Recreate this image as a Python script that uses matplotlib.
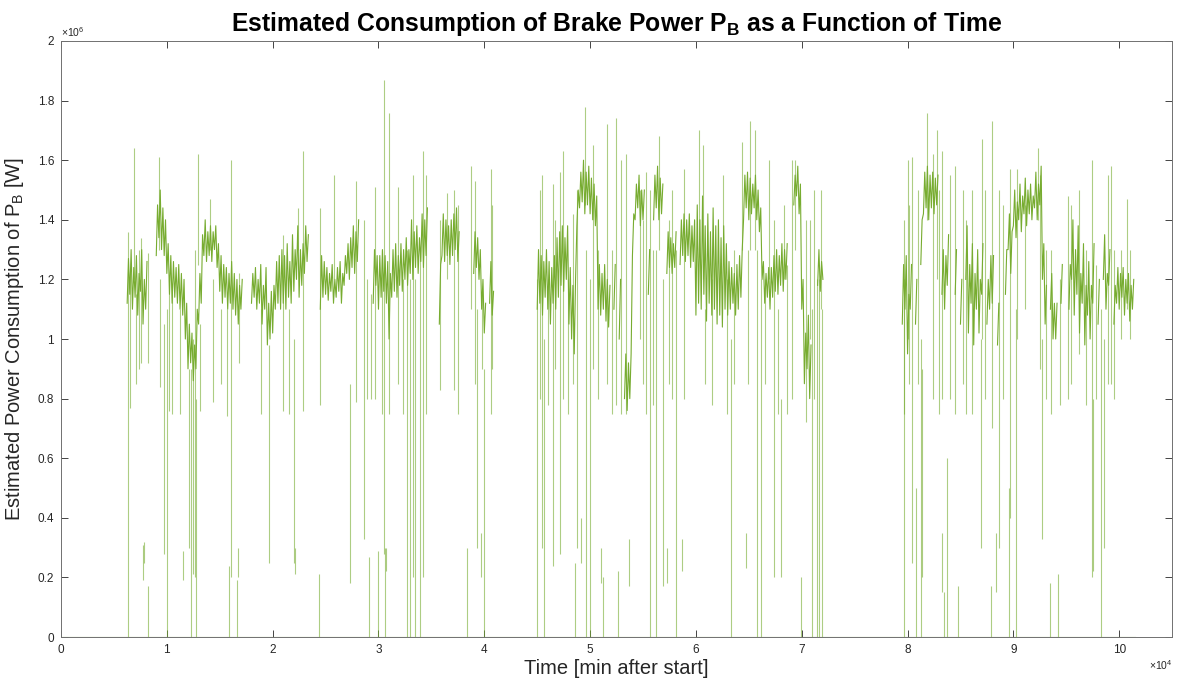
import numpy as np
import matplotlib.pyplot as plt
from matplotlib.ticker import FormatStrFormatter, MultipleLocator

nan = np.nan
GREEN = "#77AC30"
STEP = 0.125  # thousand minutes between samples

# estimated P_B in 1e6 W, one row = 1000 min (8 samples), gaps = nan
run_a_start = 6.0
run_a = [
    nan, nan, 1.12, 1.27, 1.15, 1.30, 1.10, 1.24,
    1.14, 1.28, 1.08, 1.22, 1.16, 1.30, 1.05, 1.20,
    1.10, 1.26, nan, nan, nan, nan, nan, nan,
    1.28, 1.45, 1.34, 1.50, 1.30, 1.44, 1.28, 1.40,
    1.22, 1.32, 1.15, 1.28, 1.12, 1.26, 1.14, 1.24,
    1.12, 1.25, 1.10, 1.22, 1.08, 1.20, 1.00, 1.12,
    0.90, 1.05, 0.92, 1.02, 0.86, 0.98, 0.90, 1.10,
    1.05, 1.22, 1.12, 1.35, 1.28, 1.40, 1.26, 1.36,
    1.28, 1.38, 1.26, 1.36, 1.30, 1.38, 1.24, 1.32,
    1.16, 1.28, 1.12, 1.25, 1.14, 1.24, 1.10, 1.22,
    1.12, 1.26, 1.10, 1.22, 1.08, 1.20, 1.05, 1.18,
    1.10, 1.20, nan, nan, nan, nan, nan, nan,
    1.12, 1.22, 1.14, 1.24, 1.10, 1.20, 1.12, 1.25,
    1.05, 1.18, 1.10, 1.24, 0.98, 1.12, 1.00, 1.16,
    1.02, 1.18, 1.10, 1.26, 1.12, 1.28, 1.10, 1.30,
    1.12, 1.28, 1.10, 1.32, 1.14, 1.26, 1.12, 1.35,
    1.16, 1.30, 1.20, 1.38, 1.14, 1.30, 1.18, 1.32,
    1.22, 1.38, 1.26, 1.35, nan, nan, nan, nan,
    nan, nan, nan, nan, 1.10, 1.28, 1.14, 1.26,
    1.15, 1.24, 1.13, 1.22, 1.16, 1.25, 1.12, 1.20,
    1.14, 1.24, 1.16, 1.26, 1.12, 1.22, 1.18, 1.28,
    1.22, 1.32, 1.20, 1.34, 1.24, 1.38, 1.22, 1.36,
    1.26, 1.40, nan, nan, nan, nan, nan, nan,
    nan, nan, nan, nan, 1.12, 1.30, 1.18, 1.28,
    1.10, 1.28, 1.14, 1.30, 1.16, 1.28, 1.12, 1.26,
    1.00, 1.22, 1.14, 1.30, 1.16, 1.32, 1.14, 1.28,
    1.18, 1.32, 1.16, 1.30, 1.20, 1.34, 1.18, 1.30,
    1.22, 1.40, 1.20, 1.36, 1.24, 1.38, 1.22, 1.34,
    1.26, 1.42, 1.24, 1.40, 1.28, 1.44, nan, nan,
    nan, nan, nan, nan, nan, nan, 1.05, 1.25,
    1.28, 1.42, 1.26, 1.40, 1.28, 1.38, 1.25, 1.40,
    1.28, 1.42, 1.30, 1.44, 1.26, 1.36, nan, nan,
    nan, nan, nan, nan, nan, nan, nan, nan,
    1.22, 1.36, 1.24, 1.34, 1.20, 1.30, 1.10, 1.20,
    1.02, 1.12, nan, nan, 1.12, 1.26, 1.08, 1.16,
]

run_b_start = 45.0
run_b = [
    1.10, 1.30, 1.12, 1.28, 1.08, 1.26, 1.14, 1.30,
    1.10, 1.26, 1.05, 1.24, 1.12, 1.28, 1.10, 1.34,
    1.14, 1.36, 1.18, 1.38, 1.16, 1.34, 1.20, 1.38,
    1.05, 1.24, 1.00, 1.18, 0.95, 1.20, 1.38, 1.50,
    1.44, 1.56, 1.46, 1.60, 1.42, 1.56, 1.45, 1.58,
    1.42, 1.54, 1.40, 1.52, 1.38, 1.48, 1.10, 1.25,
    1.08, 1.22, 1.10, 1.25, 1.06, 1.20, 1.04, 1.18,
    nan, nan, 1.10, 1.25, nan, nan, 1.00, 1.20,
    nan, nan, 0.80, 0.95, 0.76, 0.92, 0.80, 0.95,
    1.28, 1.42, 1.40, 1.52, 1.44, 1.55, 1.38, 1.50,
    1.40, 1.50, nan, nan, 1.15, 1.30, nan, nan,
    1.40, 1.55, 1.44, 1.58, 1.40, 1.54, 1.42, 1.52,
    nan, nan, 1.22, 1.36, 1.24, 1.34, 1.22, 1.32,
    1.24, 1.36, nan, nan, 1.25, 1.40, 1.28, 1.42,
    1.26, 1.40, 1.28, 1.42, 1.24, 1.38, 1.26, 1.40,
    1.08, 1.45, 1.12, 1.40, 1.10, 1.48, 1.15, 1.38,
    1.06, 1.42, 1.12, 1.36, 1.08, 1.44, 1.10, 1.38,
    1.05, 1.40, 1.08, 1.34, 1.04, 1.38, 1.10, 1.32,
    1.08, 1.26, 1.10, 1.24, 1.12, 1.22, 1.08, 1.25,
    1.10, 1.28, 1.14, 1.30, 1.40, 1.55, 1.44, 1.56,
    1.40, 1.54, 1.42, 1.52, 1.44, 1.55, 1.40, 1.50,
    1.36, 1.44, 1.20, 1.26, 1.12, 1.22, 1.14, 1.24,
    1.10, 1.24, 1.14, 1.28, 1.16, 1.30, 1.15, 1.28,
    1.18, 1.32, 1.16, 1.30, 1.20, 1.32, nan, nan,
    nan, nan, 1.45, 1.55, 1.48, 1.58, 1.42, 1.52,
    1.10, 1.20, 0.85, 1.02, 0.90, 1.08, 0.80, 0.98,
    nan, nan, nan, nan, 1.18, 1.30, 1.16, 1.26,
    1.20,
]

run_c_start = 79.0
run_c = [
    nan, nan, nan, nan, 1.05, 1.25, 1.10, 1.28,
    0.95, 1.15, 1.10, 1.25, nan, nan, 1.05, 1.20,
    nan, nan, 1.25, 1.40, 1.42, 1.56, 1.44, 1.58,
    1.40, 1.55, 1.44, 1.56, 1.42, 1.54, 1.45, 1.55,
    nan, nan, 1.15, 1.30, 1.10, 1.28, 1.18, 1.35,
    nan, nan, nan, nan, 1.15, 1.30, nan, nan,
    1.05, 1.20, nan, nan, 1.20, 1.38, 1.02, 1.25,
    1.12, 1.32, 0.98, 1.22, 1.10, 1.30, 1.02, 1.20,
    1.15, 1.32, nan, nan, 1.05, 1.20, 1.10, 1.28,
    1.12, 1.28, nan, nan, 0.98, 1.12, nan, nan,
    nan, nan, 1.15, 1.30, 1.30, 1.42, 1.22, 1.36,
    1.38, 1.50, 1.34, 1.46, 1.40, 1.52, 1.36, 1.48,
    1.42, 1.54, 1.38, 1.50, 1.42, 1.52, 1.40, 1.48,
    1.44, 1.56, 1.40, 1.52, 1.45, 1.58, 1.20, 1.32,
    1.05, 1.18, nan, nan, 1.10, 1.22, 1.00, 1.12,
    1.00, 1.12, nan, nan, 1.12, 1.25, nan, nan,
    nan, nan, 1.10, 1.25, 1.20, 1.40, 1.08, 1.30,
    1.15, 1.38, 1.02, 1.22, 1.12, 1.32, 0.98, 1.18,
    1.08, 1.26, 1.00, 1.18, 1.12, 1.32, nan, nan,
    1.05, 1.20, nan, nan, 1.20, 1.35, 1.10, 1.22,
    1.18, 1.30, nan, nan, 1.05, 1.18, 1.12, 1.24,
    1.10, 1.22, 1.14, 1.24, 1.08, 1.20, 1.12, 1.22,
    1.06, 1.18, 1.10, 1.20,
]

# standing still: P_B = 0 (thousand min)
idle_t = [0.0, 101.5]
idle_p = [0.0, 0.0]

# short peaks / drops: time (thousand min), low and high end (1e6 W)
spike_t = [
    6.37, 6.5, 6.9, 7.1, 7.35, 7.6, 7.75, 7.85, 8.2, 8.25, 9.25, 9.4, 9.75,
    10.05, 10.25, 10.5, 11.2, 11.5, 12.05, 12.3, 12.45, 12.65, 12.8, 12.95,
    13.15, 14.05, 14.4, 15.1, 15.65, 15.9, 16.1, 16.6, 16.75, 16.85, 18.9,
    19.7, 21.0, 21.55, 22.0, 22.1, 22.35, 22.85, 24.4, 24.45, 25.8, 27.3,
    27.85, 28.6, 28.95, 29.1, 29.3, 29.7, 30.0, 30.3, 30.5, 30.66, 30.75,
    31.0, 31.8, 32.35, 32.7, 33.0, 33.3, 33.45, 33.9, 34.25, 34.5, 35.85,
    36.5, 37.1, 37.5, 38.4, 38.75, 39.1, 39.35, 39.7, 39.75, 40.0, 40.6,
    40.75,
    45.0, 45.3, 45.5, 45.65, 46.0, 46.45, 46.7, 47.2, 47.45, 47.9, 48.4,
    48.6, 48.8, 49.13, 49.47, 49.6, 50.02, 50.3, 50.7, 51.03, 51.19, 51.6,
    52.1, 52.45, 52.6, 52.95, 53.4, 53.7, 54.7, 55.0, 55.3, 55.7, 55.9,
    56.27, 56.48, 56.9, 57.27, 57.5, 57.71, 58.1, 58.69, 58.9, 60.33, 60.71,
    60.9, 61.5, 62.6, 62.9, 63.29, 63.6, 64.34, 64.7, 64.9, 65.13, 65.6,
    65.8, 66.14, 66.5, 66.86, 67.4, 67.8, 68.0, 68.3, 68.6, 69.1, 69.4,
    69.9, 70.4, 70.82, 70.98, 71.2, 71.45, 71.6, 71.8, 71.92,
    79.66, 79.7, 80.0, 80.15, 80.46, 80.76, 81.0, 81.25, 81.4, 81.8, 82.4,
    82.8, 83.0, 83.24, 83.3, 83.43, 83.7, 84.0, 84.5, 84.76, 85.2, 85.5,
    86.1, 86.9, 87.05, 87.3, 87.93, 88.0, 88.36, 88.6, 89.0, 89.6, 89.67,
    90.22, 90.33, 91.1, 92.28, 92.5, 92.75, 93.1, 93.44, 93.6, 94.17, 94.4,
    95.12, 95.4, 96.2, 96.9, 97.42, 97.48, 97.8, 98.27, 98.6, 98.9, 99.2,
    99.5, 100.2, 100.78, 101.0,
]
spike_lo = [
    0.0, 0.77, 1.2, 0.85, 0.9, 0.92, 0.19, 0.25, 0.0, 0.92, 1.3, 0.84, 0.28,
    0.0, 0.76, 0.75, 0.75, 0.19, 0.3, 0.0, 0.21, 0.2, 0.0, 1.25,
    0.76, 1.3, 0.79, 0.85, 0.74, 0.0, 0.2, 0.0, 0.2, 0.92, 0.75,
    0.25, 0.76, 0.75, 0.25, 0.21, 1.3, 0.76, 0.0, 0.78, 1.2, 0.18,
    0.79, 0.33, 0.8, 0.0, 0.8, 0.8, 0.0, 0.75, 0.28, 0.0, 0.22,
    0.75, 0.85, 0.75, 0.0, 0.0, 0.2, 0.0, 0.0, 0.2, 0.75, 0.83,
    1.2, 0.83, 0.75, 0.0, 1.1, 0.85, 0.3, 0.2, 0.9, 0.0, 0.75,
    0.9,
    0.0, 0.8, 0.3, 0.0, 0.78, 0.24, 0.9, 0.28, 0.8, 0.75, 0.85,
    0.0, 0.3, 0.25, 1.45, 0.0, 0.0, 0.9, 0.8, 0.18, 0.0, 0.85,
    0.75, 0.78, 0.0, 0.75, 0.75, 0.17, 1.0, 0.85, 0.75, 0.0, 0.78,
    0.0, 1.3, 0.17, 0.18, 0.85, 0.8, 0.0, 0.22, 0.8, 1.3, 1.2,
    0.85, 0.78, 1.3, 0.75, 0.0, 0.85, 1.3, 0.23, 0.85, 1.3, 1.3,
    0.0, 0.0, 0.85, 1.2, 0.2, 0.75, 0.2, 1.2, 0.75, 0.8, 1.3,
    0.0, 0.72, 1.0, 0.0, 0.8, 0.0, 0.0, 1.1, 0.0,
    0.0, 0.75, 1.0, 0.85, 0.25, 0.0, 0.85, 0.0, 0.2, 1.4, 0.8,
    1.2, 0.75, 0.15, 0.8, 0.0, 0.0, 0.8, 0.75, 0.0, 0.85, 0.75,
    0.75, 0.3, 1.0, 0.8, 0.0, 0.7, 0.15, 0.3, 0.8, 0.0, 0.4,
    0.0, 1.0, 1.1, 1.4, 0.9, 0.33, 0.8, 0.0, 0.75, 0.0, 0.78,
    0.8, 0.85, 0.95, 0.78, 0.2, 0.22, 0.8, 0.0, 0.3, 0.85, 0.85,
    0.8, 1.0, 1.1, 1.0,
]
spike_hi = [
    1.36, 1.22, 1.64, 1.15, 1.3, 1.34, 0.31, 0.32, 0.17, 1.29, 1.61, 1.2, 1.05,
    1.1, 1.2, 1.15, 1.1, 0.29, 0.9, 0.9, 1.0, 1.3, 0.8, 1.62,
    1.05, 1.47, 1.2, 1.1, 1.1, 0.24, 1.6, 0.19, 0.3, 1.22, 1.1,
    0.98, 1.35, 1.1, 1.0, 0.3, 1.44, 1.63, 0.21, 1.44, 1.55, 0.85,
    1.53, 1.4, 1.2, 0.27, 1.15, 1.51, 0.29, 1.3, 1.87, 0.3, 0.3,
    1.76, 1.51, 1.2, 1.3, 1.2, 1.55, 1.2, 1.3, 1.63, 1.55, 1.4,
    1.49, 1.5, 1.45, 0.3, 1.58, 1.53, 1.1, 0.35, 1.15, 0.9, 1.57,
    1.45,
    1.2, 1.5, 1.55, 1.0, 1.2, 1.52, 1.4, 1.56, 1.63, 1.2, 1.42,
    0.25, 1.5, 0.4, 1.78, 1.3, 1.2, 1.65, 1.3, 0.3, 0.2, 1.72,
    1.3, 1.74, 0.22, 1.6, 1.62, 0.33, 1.5, 1.4, 1.56, 1.5, 1.3,
    1.3, 1.68, 1.2, 0.3, 1.4, 1.5, 1.3, 0.33, 1.57, 1.7, 1.65,
    1.1, 1.2, 1.55, 1.2, 1.0, 1.3, 1.66, 0.35, 1.3, 1.73, 1.7,
    1.3, 1.2, 1.2, 1.6, 1.4, 1.1, 0.8, 1.45, 1.25, 1.6, 1.6,
    0.2, 1.4, 1.4, 1.1, 1.5, 1.2, 1.2, 1.5, 1.1,
    1.2, 1.4, 1.6, 1.45, 1.61, 0.5, 1.5, 1.0, 0.9, 1.76, 1.62,
    1.7, 1.5, 0.35, 1.63, 0.15, 0.6, 1.55, 1.58, 0.17, 1.5, 1.4,
    1.5, 1.0, 1.67, 1.5, 0.17, 1.73, 0.35, 1.5, 1.45, 0.5, 1.57,
    1.1, 1.57, 1.45, 1.64, 1.55, 1.0, 1.3, 0.18, 1.3, 0.21, 1.2,
    1.48, 1.45, 1.5, 1.3, 1.6, 0.8, 1.25, 1.1, 1.0, 1.55, 1.58,
    1.3, 1.3, 1.47, 1.3,
]

plt.rcParams["font.family"] = ["Liberation Sans", "DejaVu Sans"]
plt.rcParams["mathtext.fontset"] = "custom"
plt.rcParams["mathtext.rm"] = "Liberation Sans"
plt.rcParams["mathtext.bf"] = "Liberation Sans:bold"

fig = plt.figure(figsize=(11.78, 6.83), dpi=100)
ax = fig.add_axes([0.0518, 0.0673, 0.9432, 0.8727])

# minutes are shown in units of 1e4, so thousand-min values are divided by 10
ax.plot(np.array(idle_t) / 10, idle_p, color=GREEN, lw=0.8)
ax.vlines(np.array(spike_t) / 10, spike_lo, spike_hi, color=GREEN, lw=0.8, alpha=0.6)
for start, vals in [(run_a_start, run_a), (run_b_start, run_b), (run_c_start, run_c)]:
    t = (start + STEP * np.arange(len(vals))) / 10
    ax.plot(t, vals, color=GREEN, lw=0.8)

ax.set_xlim(0, 10.5)
ax.set_ylim(0, 2)
ax.xaxis.set_major_locator(MultipleLocator(1))
ax.yaxis.set_major_locator(MultipleLocator(0.2))
ax.xaxis.set_major_formatter(FormatStrFormatter("%g"))
ax.yaxis.set_major_formatter(FormatStrFormatter("%g"))
ax.tick_params(direction="in", top=True, right=True, length=5, width=0.6,
               labelsize=8.5, colors="#262626", pad=5)
for s in ax.spines.values():
    s.set_color("#707070")
    s.set_linewidth(0.7)

ax.text(0.0, 1.004, r"$\times10^{6}$", transform=ax.transAxes, fontsize=7.5,
        color="#262626", ha="left", va="bottom")
ax.text(1.0, -0.035, r"$\times10^{4}$", transform=ax.transAxes, fontsize=7.5,
        color="#262626", ha="right", va="top")

ax.set_title(r"Estimated Consumption of Brake Power P$_\mathbf{B}$ as a Function of Time",
             fontsize=17.8, fontweight="bold", pad=7)
ax.set_xlabel("Time [min after start]", fontsize=14.5, color="#262626", labelpad=2)
ax.set_ylabel(r"Estimated Power Consumption of P$_\mathrm{B}$ [W]", fontsize=14.5,
              color="#262626", labelpad=8)

fig.savefig("out.png", dpi=100)
